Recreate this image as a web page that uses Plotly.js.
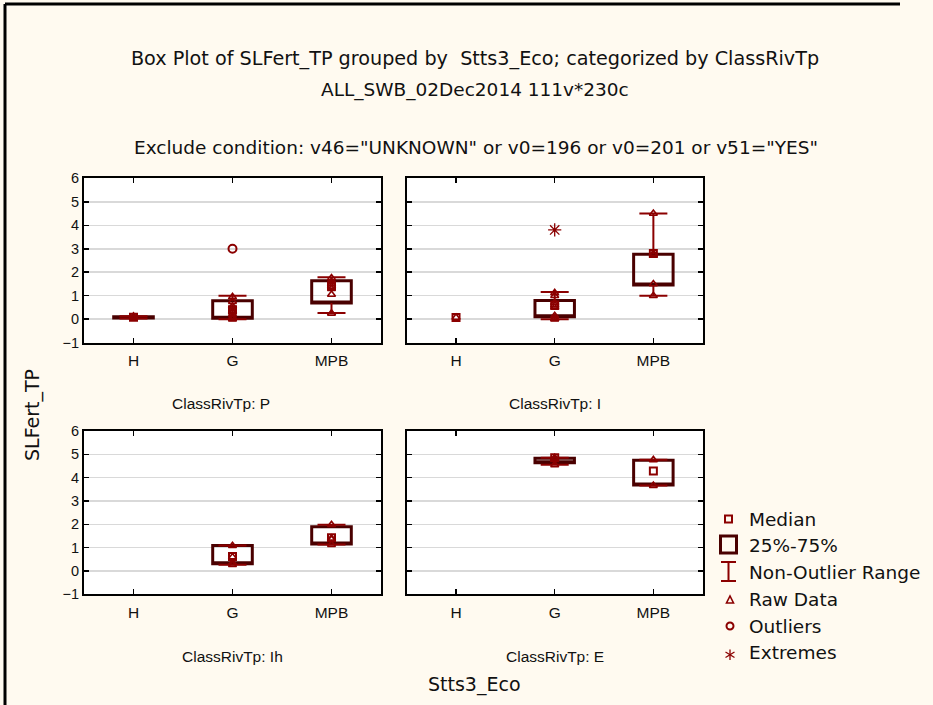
<!DOCTYPE html>
<html>
<head>
<meta charset="utf-8">
<script src="https://cdn.plot.ly/plotly-3.0.1.min.js"></script>
<style>
html,body{margin:0;padding:0;background:#fffaf0;overflow:hidden;}
#chart{width:933px;height:705px;}
</style>
</head>
<body>
<div id="chart"></div>
<script>
// ---------- data ----------
const categories = ['H', 'G', 'MPB'];
const panelNames = ['P', 'I', 'Ih', 'E'];

// Panel P
const P_q1  = [0.05, 0.04, 0.69];
const P_med = [0.08, 0.40, 1.43];
const P_q3  = [0.11, 0.79, 1.64];
const P_lo  = [0.03, 0.00, 0.26];
const P_hi  = [0.13, 1.00, 1.79];
const P_raw_H   = [0.03, 0.05, 0.06, 0.08, 0.10, 0.12];
const P_raw_G   = [0.00, 0.02, 0.05, 0.10, 0.20, 0.30, 0.35, 0.45, 0.55, 0.75, 0.95];
const P_raw_MPB = [0.25, 1.05, 1.30, 1.40, 1.50, 1.60, 1.75];
const P_out_G   = [3.0];

// Panel I
const I_q1  = [null, 0.11, 1.46];
const I_med = [0.07, 0.60, 2.80];
const I_q3  = [null, 0.80, 2.77];
const I_lo  = [null, 0.00, 1.00];
const I_hi  = [null, 1.16, 4.50];
const I_raw_H   = [0.07];
const I_raw_G   = [0.00, 0.02, 0.05, 0.15, 0.50, 0.60, 0.70, 1.00, 1.12];
const I_raw_MPB = [1.00, 1.50, 2.75, 2.80, 4.50];
const I_ext_G   = [3.8];

// Panel Ih
const Ih_q1  = [null, 0.31, 1.16];
const Ih_med = [null, 0.62, 1.42];
const Ih_q3  = [null, 1.09, 1.90];
const Ih_lo  = [null, 0.27, 1.13];
const Ih_hi  = [null, 1.09, 1.98];
const Ih_raw_G   = [0.27, 0.35, 0.60, 1.08];
const Ih_raw_MPB = [1.13, 1.35, 1.40, 1.98];

// Panel E
const E_q1  = [null, 4.64, 3.69];
const E_med = [null, 4.85, 4.29];
const E_q3  = [null, 4.83, 4.75];
const E_lo  = [null, 4.55, 3.66];
const E_hi  = [null, 4.85, 4.77];
const E_raw_G   = [4.55, 4.80, 4.85];
const E_raw_MPB = [3.66, 4.76];

// ---------- styling ----------
const W = 933, H = 705;
const px = v => v / W;
const py = v => 1 - v / H;
const BOXCOL = '#4a0000';
const RED = '#8b0000';
const TXT = '#111111';
const SANS = 'Liberation Sans, Arial, sans-serif';
const WIDE = 'DejaVu Sans, sans-serif';

const panels = [
  {name: 'P',  xa: 'x',  ya: 'y',  q1: P_q1,  med: P_med,  q3: P_q3,  lo: P_lo,  hi: P_hi,
   raw: {H: P_raw_H, G: P_raw_G, MPB: P_raw_MPB}, out: {G: P_out_G}, ext: {}},
  {name: 'I',  xa: 'x2', ya: 'y2', q1: I_q1,  med: I_med,  q3: I_q3,  lo: I_lo,  hi: I_hi,
   raw: {H: I_raw_H, G: I_raw_G, MPB: I_raw_MPB}, out: {}, ext: {G: I_ext_G}},
  {name: 'Ih', xa: 'x3', ya: 'y3', q1: Ih_q1, med: Ih_med, q3: Ih_q3, lo: Ih_lo, hi: Ih_hi,
   raw: {G: Ih_raw_G, MPB: Ih_raw_MPB}, out: {}, ext: {}},
  {name: 'E',  xa: 'x4', ya: 'y4', q1: E_q1,  med: E_med,  q3: E_q3,  lo: E_lo,  hi: E_hi,
   raw: {G: E_raw_G, MPB: E_raw_MPB}, out: {}, ext: {}}
];

const traces = [];
panels.forEach(p => {
  const idx = categories.map((c, i) => i).filter(i => p.q1[i] !== null);
  traces.push({
    type: 'box', xaxis: p.xa, yaxis: p.ya,
    x: idx.map(i => categories[i]),
    q1: idx.map(i => p.q1[i]),
    median: idx.map(i => p.q1[i]),
    q3: idx.map(i => p.q3[i]),
    lowerfence: idx.map(i => p.q1[i]),
    upperfence: idx.map(i => p.q3[i]),
    width: 0.4, whiskerwidth: 0, boxpoints: false,
    line: {color: BOXCOL, width: 3}, fillcolor: 'rgba(255,255,255,0)',
    hoverinfo: 'skip', showlegend: false
  });
  const wx = [], wy = [], cx = [], cy = [];
  idx.forEach(i => {
    wx.push(categories[i], categories[i], null, categories[i], categories[i], null);
    wy.push(p.q3[i], p.hi[i], null, p.q1[i], p.lo[i], null);
    cx.push(categories[i], categories[i]);
    cy.push(p.hi[i], p.lo[i]);
  });
  traces.push({type: 'scatter', mode: 'lines', xaxis: p.xa, yaxis: p.ya, x: wx, y: wy,
    line: {color: RED, width: 2}, hoverinfo: 'skip', showlegend: false, connectgaps: false});
  traces.push({type: 'scatter', mode: 'markers', xaxis: p.xa, yaxis: p.ya, x: cx, y: cy,
    marker: {symbol: 'line-ew-open', size: 20, color: RED, line: {color: RED, width: 2}},
    hoverinfo: 'skip', showlegend: false});
  const rx = [], ry = [];
  Object.keys(p.raw).forEach(c => p.raw[c].forEach(v => { rx.push(c); ry.push(v); }));
  traces.push({type: 'scatter', mode: 'markers', xaxis: p.xa, yaxis: p.ya, x: rx, y: ry,
    marker: {symbol: 'triangle-up-open', size: 7, color: RED, line: {color: RED, width: 1.6}},
    hoverinfo: 'skip', showlegend: false});
  const ox = [], oy = [];
  Object.keys(p.out).forEach(c => p.out[c].forEach(v => { ox.push(c); oy.push(v); }));
  if (ox.length) traces.push({type: 'scatter', mode: 'markers', xaxis: p.xa, yaxis: p.ya, x: ox, y: oy,
    marker: {symbol: 'circle-open', size: 8, color: RED, line: {color: RED, width: 2}},
    hoverinfo: 'skip', showlegend: false});
  const ex = [], ey = [];
  Object.keys(p.ext).forEach(c => p.ext[c].forEach(v => { ex.push(c); ey.push(v); }));
  if (ex.length) traces.push({type: 'scatter', mode: 'markers', xaxis: p.xa, yaxis: p.ya, x: ex, y: ey,
    marker: {symbol: 'asterisk-open', size: 11, color: RED, line: {color: RED, width: 1.3}},
    hoverinfo: 'skip', showlegend: false});
  const mi = categories.map((c, i) => i).filter(i => p.med[i] !== null);
  traces.push({type: 'scatter', mode: 'markers', xaxis: p.xa, yaxis: p.ya,
    x: mi.map(i => categories[i]), y: mi.map(i => p.med[i]),
    marker: {symbol: 'square-open', size: 7, color: RED, line: {color: RED, width: 2}},
    hoverinfo: 'skip', showlegend: false});
});

const xDom = [[px(84), px(381)], [px(406.7), px(702.7)]];
const yDom = [[py(342.7), py(178.3)], [py(594.3), py(431)]];
function xax(dom, anchor) {
  return {domain: dom, anchor: anchor, type: 'category', categoryorder: 'array',
    categoryarray: categories, range: [-0.5, 2.5], showline: true, linecolor: '#000', linewidth: 2,
    mirror: 'allticks', ticks: 'inside', ticklen: 5, tickwidth: 1.5, tickcolor: '#000',
    showgrid: false, zeroline: false, fixedrange: true, ticklabelstandoff: 3,
    tickfont: {family: SANS, size: 15.5, color: TXT}};
}
function yax(dom, anchor, labels) {
  return {domain: dom, anchor: anchor, range: [-1, 6], tick0: 0, dtick: 1, showline: true,
    linecolor: '#000', linewidth: 2, mirror: 'allticks', ticks: 'inside', ticklen: 5, tickwidth: 1.5,
    tickcolor: '#000', showgrid: true, gridcolor: '#d9d9d9', gridwidth: 1.5, zeroline: false,
    showticklabels: labels, fixedrange: true, tickfont: {family: SANS, size: 14.5, color: TXT}};
}

const ann = [];
function text(t, x, y, size, fam, opts) {
  ann.push(Object.assign({text: t, x: px(x), y: py(y), xref: 'paper', yref: 'paper', showarrow: false,
    xanchor: 'center', yanchor: 'middle', font: {family: fam, size: size, color: TXT}}, opts || {}));
}
text('ALL_SWB_02Dec2014 111v*230c', 475, 90, 18.5, WIDE);
text('Exclude condition: v46="UNKNOWN" or v0=196 or v0=201 or v51="YES"', 476, 148, 18.5, WIDE);
text('ClassRivTp: P', 221, 403, 15.5, SANS);
text('ClassRivTp: I', 555, 403, 15.5, SANS);
text('ClassRivTp: Ih', 232, 656, 15.5, SANS);
text('ClassRivTp: E', 555, 656, 15.5, SANS);
text('SLFert_TP', 32, 415, 19, WIDE, {textangle: -90});
text('Stts3_Eco', 474, 684, 19, WIDE);

const legendLabels = ['Median', '25%-75%', 'Non-Outlier Range', 'Raw Data', 'Outliers', 'Extremes'];
const legendY = [519, 545, 572, 599, 626, 652];
legendLabels.forEach((l, i) => text(l, 747, legendY[i], 18.5, WIDE, {xanchor: 'left'}));

const shapes = [];
function rect(x0, y0, x1, y1, col, w) {
  shapes.push({type: 'rect', xref: 'paper', yref: 'paper', x0: px(x0), x1: px(x1), y0: py(y1), y1: py(y0),
    line: {color: col, width: w}, fillcolor: 'rgba(0,0,0,0)'});
}
function line(x0, y0, x1, y1, col, w) {
  shapes.push({type: 'line', xref: 'paper', yref: 'paper', x0: px(x0), x1: px(x1), y0: py(y0), y1: py(y1),
    line: {color: col, width: w}});
}
// page border: left edge and top edge
line(5, 4, 5, 705, '#000', 3);
line(5, 4, 900, 4, '#000', 3);
// legend icons
rect(725, 515.5, 732, 522.5, RED, 2);
rect(720.5, 536, 736.5, 553, BOXCOL, 3);
line(728.5, 562, 728.5, 581, RED, 2);
line(721, 562, 736, 562, RED, 2);
line(721, 581, 736, 581, RED, 2);
shapes.push({type: 'path', xref: 'paper', yref: 'paper',
  path: 'M' + px(726.5) + ',' + py(603) + 'L' + px(733.5) + ',' + py(603) + 'L' + px(730) + ',' + py(596) + 'Z',
  line: {color: RED, width: 1.6}, fillcolor: 'rgba(0,0,0,0)'});
shapes.push({type: 'circle', xref: 'paper', yref: 'paper', x0: px(726.5), x1: px(733.5), y0: py(629.5), y1: py(622.5),
  line: {color: RED, width: 2}, fillcolor: 'rgba(0,0,0,0)'});
line(730, 649.5, 730, 660, RED, 1.3);
line(725.5, 652, 734.5, 657.5, RED, 1.3);
line(725.5, 657.5, 734.5, 652, RED, 1.3);

const layout = {
  width: W, height: H, margin: {l: 0, r: 0, t: 0, b: 0},
  paper_bgcolor: '#fffaf0', plot_bgcolor: '#ffffff',
  showlegend: false,
  title: {text: 'Box Plot of SLFert_TP grouped by  Stts3_Eco; categorized by ClassRivTp',
    x: px(475), xanchor: 'center', xref: 'paper', y: py(58), yanchor: 'middle', yref: 'container',
    font: {family: WIDE, size: 19.2, color: TXT}},
  xaxis: xax(xDom[0], 'y'), yaxis: yax(yDom[0], 'x', true),
  xaxis2: xax(xDom[1], 'y2'), yaxis2: yax(yDom[0], 'x2', false),
  xaxis3: xax(xDom[1 - 1], 'y3'), yaxis3: yax(yDom[1], 'x3', true),
  xaxis4: xax(xDom[1], 'y4'), yaxis4: yax(yDom[1], 'x4', false),
  annotations: ann, shapes: shapes
};

Plotly.newPlot('chart', traces, layout, {displayModeBar: false, staticPlot: true});
</script>
</body>
</html>
